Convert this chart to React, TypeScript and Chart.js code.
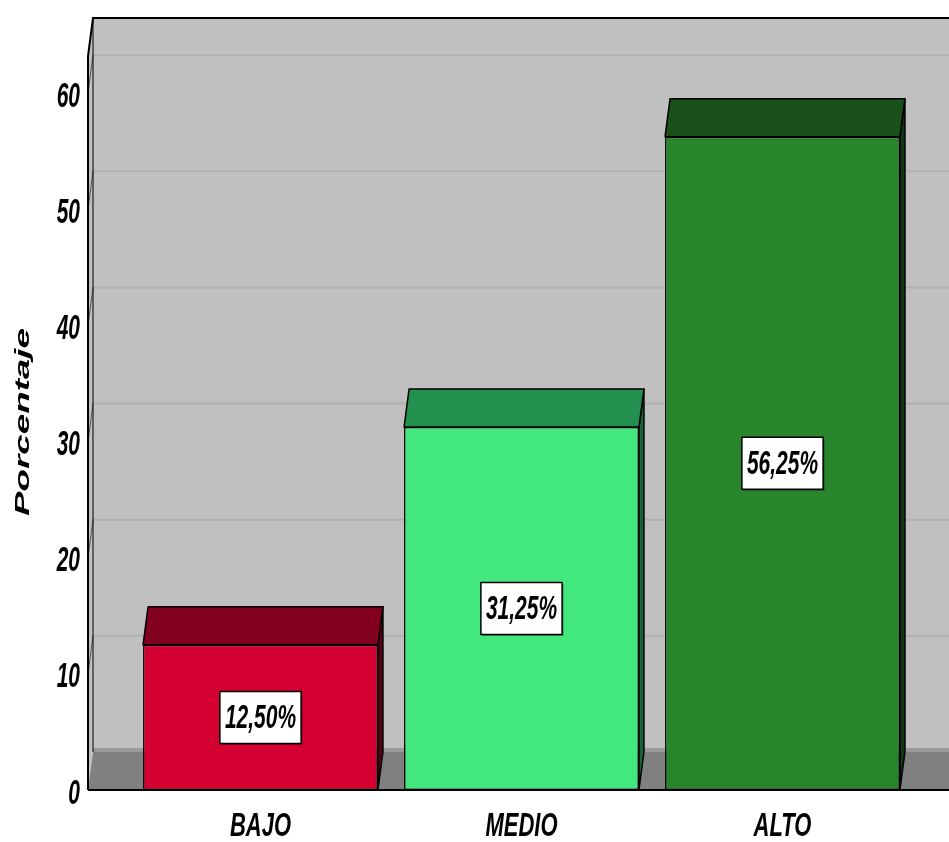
import React, { useEffect, useRef } from "react";
import { Chart, registerables } from "chart.js";

Chart.register(...registerables);

const categories = ["BAJO", "MEDIO", "ALTO"];
const percentages = [12.5, 31.25, 56.25];
const valueLabels = ["12,50%", "31,25%", "56,25%"];
const yTicks = [0, 10, 20, 30, 40, 50, 60];
const yTitle = "Porcentaje";

const frontColors = ["#d50032", "#42e87e", "#29852b"];
const topColors = ["#80001e", "#23904f", "#1a501a"];
const sideColors = ["#5a0014", "#16653a", "#103810"];

const DX = 5;
const DY = -38;
const WALL_X = 88;
const FONT = "'Liberation Sans', Arial, sans-serif";

function stretchedText(
  ctx: CanvasRenderingContext2D,
  text: string,
  x: number,
  y: number,
  size: number,
  k: number,
  align: CanvasTextAlign,
  rotate = false
) {
  ctx.save();
  ctx.translate(x, y);
  if (rotate) {
    ctx.rotate(-Math.PI / 2);
    ctx.scale(k, 1);
  } else {
    ctx.scale(1, k);
  }
  ctx.font = `italic bold ${size}px ${FONT}`;
  ctx.textAlign = align;
  ctx.textBaseline = "middle";
  ctx.fillStyle = "#000";
  ctx.fillText(text, 0, 0);
  ctx.restore();
}

const threeD = {
  id: "threeD",
  beforeDraw(chart: any) {
    const { ctx, chartArea, scales } = chart;
    const y = scales.y;
    const W = chart.width;
    const base = y.getPixelForValue(0);
    const top = chartArea.top;
    ctx.save();
    ctx.fillStyle = "#fff";
    ctx.fillRect(0, 0, W, chart.height);
    // back wall
    ctx.fillStyle = "#c0c0c0";
    ctx.fillRect(WALL_X + DX, top + DY, W, base - top);
    // left wall
    ctx.beginPath();
    ctx.moveTo(WALL_X, top);
    ctx.lineTo(WALL_X + DX, top + DY);
    ctx.lineTo(WALL_X + DX, base + DY);
    ctx.lineTo(WALL_X, base);
    ctx.closePath();
    ctx.fill();
    // gridlines
    ctx.strokeStyle = "#b0b0b0";
    ctx.lineWidth = 2;
    yTicks.forEach((t) => {
      if (t === 0) return;
      const py = y.getPixelForValue(t);
      ctx.beginPath();
      ctx.moveTo(WALL_X + DX, py + DY);
      ctx.lineTo(W, py + DY);
      ctx.stroke();
      ctx.strokeStyle = "#555";
      ctx.lineWidth = 1;
      ctx.beginPath();
      ctx.moveTo(WALL_X, py);
      ctx.lineTo(WALL_X + DX, py + DY);
      ctx.stroke();
      ctx.strokeStyle = "#b0b0b0";
      ctx.lineWidth = 2;
    });
    // floor
    ctx.fillStyle = "#9a9a9a";
    ctx.fillRect(WALL_X + DX, base + DY - 4, W, 4);
    ctx.fillStyle = "#808080";
    ctx.beginPath();
    ctx.moveTo(WALL_X, base);
    ctx.lineTo(WALL_X + DX, base + DY);
    ctx.lineTo(W, base + DY);
    ctx.lineTo(W, base);
    ctx.closePath();
    ctx.fill();
    // frame lines
    ctx.strokeStyle = "#000";
    ctx.lineWidth = 2;
    ctx.beginPath();
    ctx.moveTo(WALL_X, base);
    ctx.lineTo(WALL_X, top);
    ctx.lineTo(WALL_X + DX, top + DY);
    ctx.lineTo(W, top + DY);
    ctx.stroke();
    ctx.beginPath();
    ctx.moveTo(WALL_X, base);
    ctx.lineTo(W, base);
    ctx.stroke();
    ctx.lineWidth = 1;
    ctx.beginPath();
    ctx.moveTo(WALL_X + DX, top + DY);
    ctx.lineTo(WALL_X + DX, base + DY);
    ctx.stroke();
    ctx.restore();
  },
  afterDatasetsDraw(chart: any) {
    const { ctx, scales } = chart;
    const y = scales.y;
    const meta = chart.getDatasetMeta(0);
    ctx.save();
    meta.data.forEach((bar: any, i: number) => {
      const p = bar.getProps(["x", "y", "width", "base"], true);
      const l = p.x - p.width / 2;
      const r = p.x + p.width / 2;
      const t = p.y;
      const b = p.base;
      ctx.lineWidth = 1.5;
      ctx.strokeStyle = "#000";
      ctx.lineJoin = "round";
      // side face
      ctx.fillStyle = sideColors[i];
      ctx.beginPath();
      ctx.moveTo(r, t);
      ctx.lineTo(r + DX, t + DY);
      ctx.lineTo(r + DX, b + DY);
      ctx.lineTo(r, b);
      ctx.closePath();
      ctx.fill();
      ctx.stroke();
      // top face
      ctx.fillStyle = topColors[i];
      ctx.beginPath();
      ctx.moveTo(l, t);
      ctx.lineTo(l + DX, t + DY);
      ctx.lineTo(r + DX, t + DY);
      ctx.lineTo(r, t);
      ctx.closePath();
      ctx.fill();
      ctx.stroke();
      // value label box
      const cy = y.getPixelForValue(percentages[i] / 2);
      ctx.font = `italic bold 21px ${FONT}`;
      const tw = ctx.measureText(valueLabels[i]).width;
      const bw = tw + 10;
      const bh = 52;
      ctx.fillStyle = "rgba(0,0,0,0.35)";
      ctx.fillRect(p.x - bw / 2 + 1.5, cy - bh / 2 + 1.5, bw, bh);
      ctx.fillStyle = "#fff";
      ctx.fillRect(p.x - bw / 2, cy - bh / 2, bw, bh);
      ctx.lineWidth = 1.5;
      ctx.strokeRect(p.x - bw / 2, cy - bh / 2, bw, bh);
      stretchedText(ctx, valueLabels[i], p.x, cy + 1, 21, 1.6, "center");
    });
    // y tick labels
    yTicks.forEach((t) => {
      stretchedText(ctx, String(t), 80, y.getPixelForValue(t) + 4, 21, 1.65, "right");
    });
    // category labels
    const x = scales.x;
    categories.forEach((c, i) => {
      stretchedText(ctx, c, x.getPixelForValue(i), 827, 22, 1.55, "center");
    });
    // y title
    stretchedText(ctx, yTitle, 23, 422, 21, 1.75, "center", true);
    ctx.restore();
  },
};

export default function App() {
  const ref = useRef<HTMLCanvasElement>(null);
  useEffect(() => {
    if (!ref.current) return;
    const chart = new Chart(ref.current, {
      type: "bar",
      data: {
        labels: categories,
        datasets: [
          {
            data: percentages,
            backgroundColor: frontColors,
            borderColor: "#000",
            borderWidth: 1.5,
            borderSkipped: false,
            barPercentage: 0.9,
            categoryPercentage: 1,
          },
        ],
      },
      options: {
        responsive: false,
        animation: false,
        devicePixelRatio: 1,
        layout: { padding: { left: 130, right: 36, top: 56, bottom: 52 } },
        plugins: { legend: { display: false }, tooltip: { enabled: false } },
        scales: {
          x: { display: false },
          y: { display: false, min: 0, max: 63.2 },
        },
      },
      plugins: [threeD],
    });
    return () => chart.destroy();
  }, []);
  return (
    <div style={{ position: "absolute", left: 0, top: 0, width: 949, height: 842 }}>
      <canvas ref={ref} width={949} height={842} style={{ width: 949, height: 842 }} />
    </div>
  );
}
